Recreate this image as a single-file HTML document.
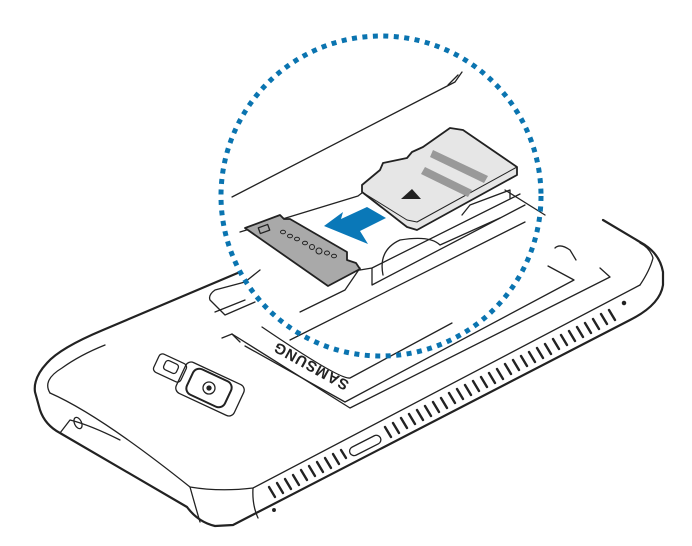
<!DOCTYPE html>
<html><head><meta charset="utf-8"><style>
html,body{margin:0;padding:0;background:#fff;width:692px;height:546px;overflow:hidden}
svg{display:block}
</style></head><body>
<svg width="692" height="546" viewBox="0 0 692 546" xmlns="http://www.w3.org/2000/svg" fill="none" stroke="#222" stroke-width="1.3" stroke-linejoin="round" stroke-linecap="round">
<!-- body outer -->
<path d="M240,272 L103,330 Q60,348 47,363 Q33,378 35,392 L40,410 Q45,425 60,433 L187,507 Q198,522 215,526 L233,525 L630,320 Q660,305 663,285 L663,272 Q660,255 645,245 L603,220" stroke-width="2.2"/>
<path d="M50,393 Q100,415 190,487 Q220,492 253,488 L640,285" />
<path d="M50,393 Q42,380 62,368 Q80,355 105,345" />
<path d="M190,487 Q195,505 200,522" />
<path d="M253,488 Q252,505 258,518" />
<path d="M640,285 Q650,270 653,258 Q650,248 640,243" />
<path d="M60,433 L70,420 Q90,425 120,440" />
<!-- headphone jack -->
<ellipse cx="78" cy="423" rx="3.5" ry="6" transform="rotate(-25 78 423)"/>
<!-- usb port -->
<rect x="348" y="441" width="34" height="9" rx="4.5" transform="rotate(-27 365 445)"/>
<!-- grill -->
<g stroke-width="2.4">
<path d="M269,487 l6,10 M277,483 l6,10 M285,479 l6,10 M293,475 l6,10 M301,470 l6,10 M309,466 l6,10 M317,462 l6,10 M325,458 l6,10 M333,454 l6,10 M341,450 l5,8"/>
<path d="M385,427 l6,10 M393,423 l6,10 M401,418 l6,10 M409,414 l6,10 M417,410 l6,10 M425,406 l6,10 M433,402 l6,10 M441,398 l6,10 M449,393 l6,10 M457,389 l6,10 M465,385 l6,10 M473,381 l6,10 M481,377 l6,10 M489,373 l6,10 M497,369 l6,10 M505,364 l6,10 M513,360 l6,10 M521,356 l6,10 M529,352 l6,10 M537,348 l6,10 M545,344 l6,10 M553,339 l6,10 M561,335 l6,10 M569,331 l6,10 M577,327 l6,10 M585,323 l6,10 M593,319 l6,10 M601,314 l6,10 M609,310 l6,10"/>
</g>
<circle cx="624" cy="303" r="1.6" fill="#222"/>
<circle cx="274" cy="510" r="1.3" fill="#222"/>
<!-- camera -->
<rect x="155" y="358" width="30" height="20" rx="4" transform="rotate(25 170 368)"/>
<rect x="164" y="362" width="14" height="10" rx="3" transform="rotate(25 171 367)"/>
<rect x="178" y="372" width="64" height="34" rx="6" transform="rotate(25 210 389)"/>
<rect x="188" y="374" width="42" height="28" rx="7" transform="rotate(25 209 388)" stroke-width="2"/>
<circle cx="209" cy="388" r="6"/><circle cx="209" cy="388" r="2" fill="#222"/>
<!-- battery panel -->
<path d="M222,338 L232,334 L350,408 L610,277 L600,268"/>
<path d="M245,346 L345,402 L574,280 L548,266"/>
<path d="M232,334 L240,342"/>
<path d="M262,327 Q340,380 350,378 L452,323"/>
<path d="M555,248 Q560,243 570,250 L576,260"/>
<text x="311" y="371" transform="rotate(209 311 366)" text-anchor="middle" font-family="Liberation Sans, sans-serif" font-weight="bold" font-size="15" fill="#222" stroke="none" letter-spacing="1">SAMSUNG</text>
<!-- inside circle -->
<path d="M232,197 L455,82 L462,72"/>
<path d="M448,85 L458,75"/>
<path d="M210,300 Q208,295 215,290 L245,282 L260,270 M210,300 L225,315 L255,302 M215,312 L245,300"/>
<path d="M240,232 L358,196 L385,175"/>
<path d="M330,282 Q345,272 360,268 L345,290 L300,312"/>
<path d="M320,275 L360,270 L372,268 L372,285 L525,205 M372,268 L520,194"/>
<path d="M383,275 Q378,250 400,240 Q430,235 440,245 L500,218"/>
<path d="M290,340 L525,222"/>
<path d="M462,215 L470,205 L510,190 L510,198"/>
<path d="M545,215 L505,190"/>
<!-- microSD card -->
<path d="M362,185 L380,170 L383,163 L407,158 L412,152 L423,147 L450,128 L463,130 L517,167 L517,175 L417,230 L407,227 L362,192 Z" fill="#e6e6e6" stroke-width="1.8"/>
<path d="M362,192 L407,220 L417,222 L517,167" stroke-width="1"/>
<path d="M433,150 L488,176 L484,183 L430,157 Z" fill="#999" stroke="none"/>
<path d="M425,167 L472,190 L468,197 L421,174 Z" fill="#999" stroke="none"/>
<path d="M401,199 L421,199 L412,189 Z" fill="#222" stroke="none"/>
<!-- gray tray -->
<path d="M245,228 L280,215 L284,219 L290,219 L347,252 L347,260 L356,263 L360,269 L328,286 Z" fill="#a9a9a9" stroke-width="1.8"/>
<rect x="259" y="226" width="10" height="6" transform="rotate(-20 264 229)"/>
<g fill="none" stroke-width="1"><ellipse cx="283" cy="232" rx="2.5" ry="1.8"/><ellipse cx="290" cy="236" rx="2.5" ry="1.8"/><ellipse cx="297" cy="239" rx="2.5" ry="1.8"/><ellipse cx="305" cy="243" rx="2.5" ry="1.8"/><ellipse cx="312" cy="247" rx="2.5" ry="2.5"/><ellipse cx="319" cy="251" rx="3" ry="3"/><ellipse cx="327" cy="253" rx="2.5" ry="2"/><ellipse cx="334" cy="256" rx="2.5" ry="1.8"/></g>
<!-- blue arrow -->
<path d="M324,226 L343,212 L341,219 L367,207 L386,218 L360,231 L368,244 Z" fill="#0a78b8" stroke="none"/>
<!-- dotted circle -->
<circle cx="381" cy="196" r="160" stroke="#0a74b0" stroke-width="5" stroke-dasharray="5 5.5" stroke-linecap="butt"/>
</svg>
</body></html>
